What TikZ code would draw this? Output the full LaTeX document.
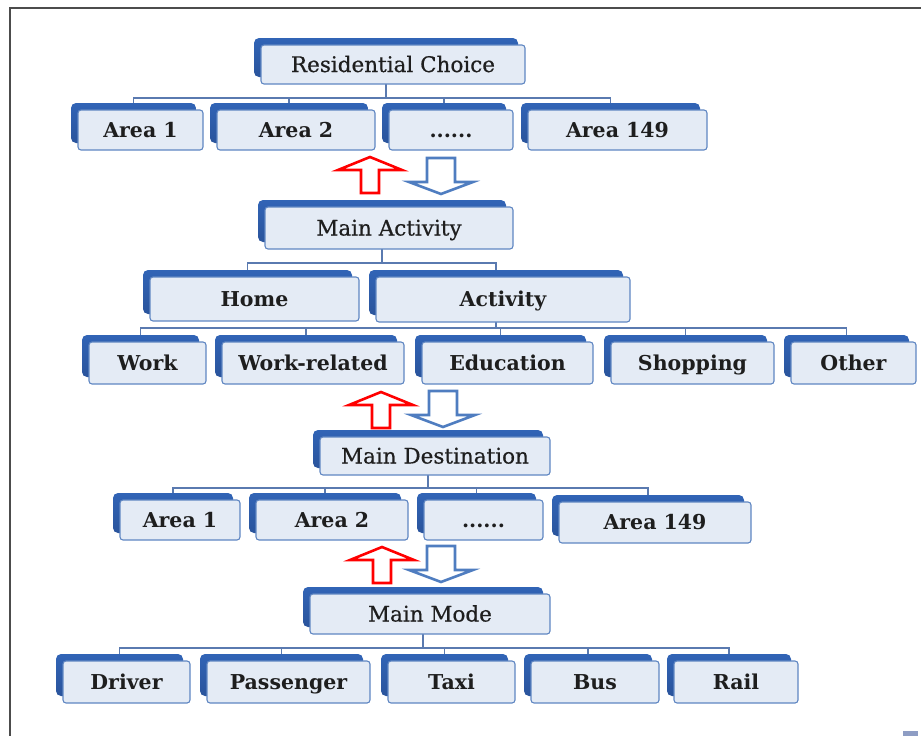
\documentclass[tikz,border=0pt]{standalone}
\usepackage{fontspec}
\setmainfont{DejaVu Serif}
\newfontfamily\hdrfont{DejaVu Serif}[FakeBold=0.6]
\usetikzlibrary{backgrounds}
\definecolor{backblue}{HTML}{3164B6}
\definecolor{backbluedark}{HTML}{2A549C}
\definecolor{frontfill}{HTML}{E4EBF5}
\definecolor{frontedge}{HTML}{5F86C2}
\definecolor{linec}{HTML}{5A7AB0}
\definecolor{arrred}{HTML}{FF0000}
\definecolor{arrblue}{HTML}{4F7DC0}
\definecolor{txt}{HTML}{1E1E1E}
\definecolor{cornerc}{HTML}{8E9DC4}
\tikzset{
  backbox/.style={rounded corners=5pt, top color=backblue, bottom color=backbluedark, draw=none, inner sep=0pt, outer sep=0pt},
  frontbox/.style={rounded corners=3pt, fill=frontfill, draw=frontedge, line width=1.1pt, inner sep=0pt, outer sep=0pt, text=txt},
  hdr/.style={font=\hdrfont\fontsize{21.5}{26}\selectfont, text height=19pt, text depth=4pt},
  opt/.style={font=\bfseries\fontsize{20.5}{24}\selectfont, text height=18pt, text depth=4pt},
  conn/.style={draw=linec, line width=1.2pt},
  redarr/.style={draw=arrred, line width=2.6pt, fill=white, line join=miter},
  bluearr/.style={draw=arrblue, line width=2.6pt, fill=white, line join=miter},
}
\newcommand\mybox[7]{%
  \node[backbox, anchor=north west, minimum width={(#4-#2)*1pt}, minimum height={(#5-#3)*1pt}] (#1-b) at (#2-7,#3-7) {};
  \node[frontbox, #7, anchor=north west, minimum width={(#4-#2)*1pt}, minimum height={(#5-#3)*1pt}] (#1) at (#2,#3) {#6};
}
\newcommand\redupar[2]{%
  \draw[redarr] (#1,#2) -- ++(32,13) -- ++(-23,0) -- ++(0,23) -- ++(-18,0) -- ++(0,-23) -- ++(-23,0) -- cycle;}
\newcommand\bluedownar[2]{%
  \draw[bluearr] (#1,#2) -- ++(32,-12) -- ++(-18,0) -- ++(0,-24) -- ++(-28,0) -- ++(0,24) -- ++(-18,0) -- cycle;}
\begin{document}
\begin{tikzpicture}[x=1pt, y=-1pt]
\useasboundingbox (0,0) rectangle (921,736);
\draw[gray!60!black, line width=1.4pt] (10,736) -- (10,8) -- (921,8);
\fill[cornerc] (903,731) rectangle (918,736);

% level 1
\mybox{RC}{261}{45}{525}{84}{Residential Choice}{hdr}
\mybox{RA1}{78}{110}{203}{150}{Area 1}{opt}
\mybox{RA2}{217}{110}{375}{150}{Area 2}{opt}
\mybox{RAD}{389}{110}{513}{150}{......}{opt}
\mybox{RA149}{528}{110}{707}{150}{Area 149}{opt}

% level 2
\mybox{MA}{265}{207}{513}{249}{Main Activity}{hdr}
\mybox{HO}{150}{277}{359}{321}{Home}{opt}
\mybox{AC}{376}{277}{630}{322}{Activity}{opt}
\mybox{WO}{89}{342}{206}{384}{Work}{opt}
\mybox{WR}{222}{342}{404}{384}{Work-related}{opt}
\mybox{ED}{422}{342}{593}{384}{Education}{opt}
\mybox{SH}{611}{342}{774}{384}{Shopping}{opt}
\mybox{OT}{791}{342}{916}{384}{Other}{opt}

% level 3
\mybox{MD}{320}{437}{550}{475}{Main Destination}{hdr}
\mybox{DA1}{120}{500}{240}{540}{Area 1}{opt}
\mybox{DA2}{256}{500}{408}{540}{Area 2}{opt}
\mybox{DAD}{424}{500}{543}{540}{......}{opt}
\mybox{DA149}{559}{502}{751}{543}{Area 149}{opt}

% level 4
\mybox{MM}{310}{594}{550}{634}{Main Mode}{hdr}
\mybox{DR}{63}{661}{190}{703}{Driver}{opt}
\mybox{PA}{207}{661}{370}{703}{Passenger}{opt}
\mybox{TA}{388}{661}{515}{703}{Taxi}{opt}
\mybox{BU}{531}{661}{659}{703}{Bus}{opt}
\mybox{RL}{674}{661}{798}{703}{Rail}{opt}

\begin{pgfonlayer}{background}
\foreach \c in {RA1,RA2,RAD,RA149}
  \draw[conn] (RC-b.south) -- (RC-b.south |- 0,98) -| (\c-b.north);
\foreach \c in {HO,AC}
  \draw[conn] (MA-b.south) -- (MA-b.south |- 0,263) -| (\c-b.north);
\foreach \c in {WO,WR,ED,SH,OT}
  \draw[conn] (AC-b.south) -- (AC-b.south |- 0,328) -| (\c-b.north);
\foreach \c in {DA1,DA2,DAD,DA149}
  \draw[conn] (MD-b.south) -- (MD-b.south |- 0,488) -| (\c-b.north);
\foreach \c in {DR,PA,TA,BU,RL}
  \draw[conn] (MM-b.south) -- (MM-b.south |- 0,648) -| (\c-b.north);
\end{pgfonlayer}

% arrows
\redupar{370}{157}
\bluedownar{441}{194}
\redupar{381}{392}
\bluedownar{443}{427}
\redupar{382}{547}
\bluedownar{441}{582}
\end{tikzpicture}
\end{document}
